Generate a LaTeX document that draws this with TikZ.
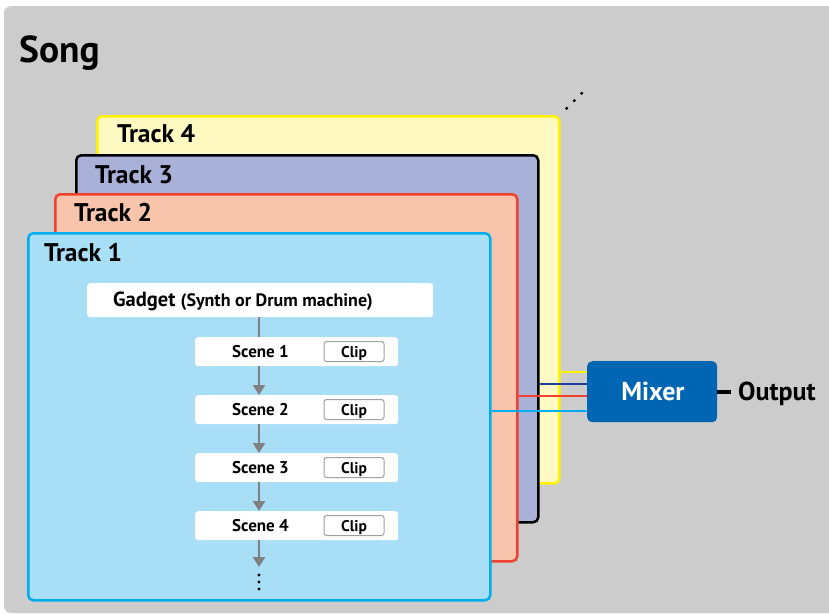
\documentclass[tikz,border=0pt]{standalone}
\usepackage{fontspec}
\setmainfont{PT Sans}
\usetikzlibrary{arrows.meta}
\definecolor{bgc}{HTML}{CCCCCC}
\definecolor{tonefill}{HTML}{A8DEF6}
\definecolor{toneline}{HTML}{00AEEF}
\definecolor{ttwofill}{HTML}{F9C4AC}
\definecolor{ttwoline}{HTML}{EE4130}
\definecolor{tthreefill}{HTML}{AAB1D8}
\definecolor{tthreeline}{HTML}{1F3C96}
\definecolor{tfourfill}{HTML}{FFF9C2}
\definecolor{tfourline}{HTML}{FFF200}
\definecolor{mixc}{HTML}{0066B3}
\definecolor{arrc}{HTML}{808080}
\definecolor{clipc}{HTML}{A0A0A0}
\tikzset{
  trackbox/.style={rectangle, rounded corners=5pt, line width=2.5pt, inner sep=0pt, anchor=north west, minimum width=462pt, minimum height=367pt},
  tracklabel/.style={anchor=base west, inner sep=0pt, font=\bfseries\fontsize{25.5}{25.5}\selectfont},
  whitebox/.style={rectangle, rounded corners=3pt, fill=white, inner sep=0pt, anchor=north west},
  scenebox/.style={whitebox, minimum width=203pt, minimum height=29pt},
  scenetext/.style={inner sep=0pt, anchor=base, font=\bfseries\fontsize{17}{17}\selectfont},
  clipbox/.style={rectangle, rounded corners=2.5pt, draw=clipc, line width=1pt, fill=white, minimum width=60pt, minimum height=20pt, inner sep=0pt},
  cliptext/.style={inner sep=0pt, anchor=base, font=\bfseries\fontsize{15.5}{15.5}\selectfont},
  flow/.style={draw=arrc, line width=2pt, -{Triangle[width=12pt,length=10pt]}},
  wire/.style={line width=2pt},
  bigtext/.style={inner sep=0pt, font=\bfseries\fontsize{26}{26}\selectfont},
}
\begin{document}
\begin{tikzpicture}[x=1pt,y=-1pt]
\useasboundingbox (0,0) rectangle (829,614);
\clip (0,0) rectangle (829,614);
\fill[bgc, rounded corners=7pt] (4,6) rectangle (845,613);
\node[anchor=base west, inner sep=0pt, font=\bfseries\fontsize{37.5}{37.5}\selectfont] (song) at (19,62.5) {Song};
% ellipsis dots
\fill (566.7,108.3) circle (1.7pt);
\fill (574.3,100.7) circle (1.7pt);
\fill (581.7,93.3) circle (1.7pt);
% tracks
\node[trackbox, draw=tfourline, fill=tfourfill] (t4) at (96,115) {};
\node[tracklabel] (l4) at (117,142) {Track 4};
\node[trackbox, draw=black, fill=tthreefill] (t3) at (75,154) {};
\node[tracklabel] (l3) at (95,183) {Track 3};
\node[trackbox, draw=ttwoline, fill=ttwofill] (t2) at (54,193) {};
\node[tracklabel] (l2) at (74,221.5) {Track 2};
\node[trackbox, draw=toneline, fill=tonefill] (t1) at (27,232) {};
\node[tracklabel] (l1) at (44,261.5) {Track 1};
% gadget
\node[whitebox, minimum width=346pt, minimum height=34pt] (gad) at (87,283) {};
\node[inner sep=0pt, anchor=base] (gadt) at (243,306) {\bfseries\fontsize{20.5}{20.5}\selectfont Gadget \fontsize{18}{18}\selectfont(Synth or Drum machine)};
% scenes
\foreach \i/\y in {1/337,2/395,3/453,4/511}{
  \node[scenebox] (s\i) at (195,\y) {};
  \node[scenetext] (st\i) at (260.5,\y+20.3) {Scene \i};
  \node[clipbox] (c\i) at (354,\y+14.5) {};
  \node[cliptext] (ct\i) at (354,\y+20.3) {Clip};
}
\coordinate (dots) at (259,567);
\draw[arrc, line width=2pt] (gad.south -| 259,0) -- (s1.north -| 259,0);
\draw[flow] (s1.south -| 259,0) -- (s2.north -| 259,0);
\draw[flow] (s2.south -| 259,0) -- (s3.north -| 259,0);
\draw[flow] (s3.south -| 259,0) -- (s4.north -| 259,0);
\draw[flow] (s4.south -| 259,0) -- (dots);
\fill (259,575) circle (1.6pt);
\fill (259,582) circle (1.6pt);
\fill (259,589) circle (1.6pt);
% mixer
\node[rectangle, rounded corners=5pt, fill=mixc, anchor=north west, minimum width=130pt, minimum height=61pt, inner sep=0pt] (mix) at (587,361) {};
\node[bigtext, text=white, anchor=base] (mixt) at (653,400.5) {Mixer};
\node[bigtext, anchor=base west] (out) at (738,400.5) {Output};
\coordinate (outend) at (731,392);
\draw[line width=4pt] (mix.east |- outend) -- (outend);
% wires
\draw[wire, draw=tfourline] (t4.east |- 0,372) -- (mix.west |- 0,372);
\draw[wire, draw=tthreeline] (t3.east |- 0,384) -- (mix.west |- 0,384);
\draw[wire, draw=ttwoline] (t2.east |- 0,396) -- (mix.west |- 0,396);
\draw[wire, draw=toneline] (t1.east |- 0,411) -- (mix.west |- 0,411);
\end{tikzpicture}
\end{document}
